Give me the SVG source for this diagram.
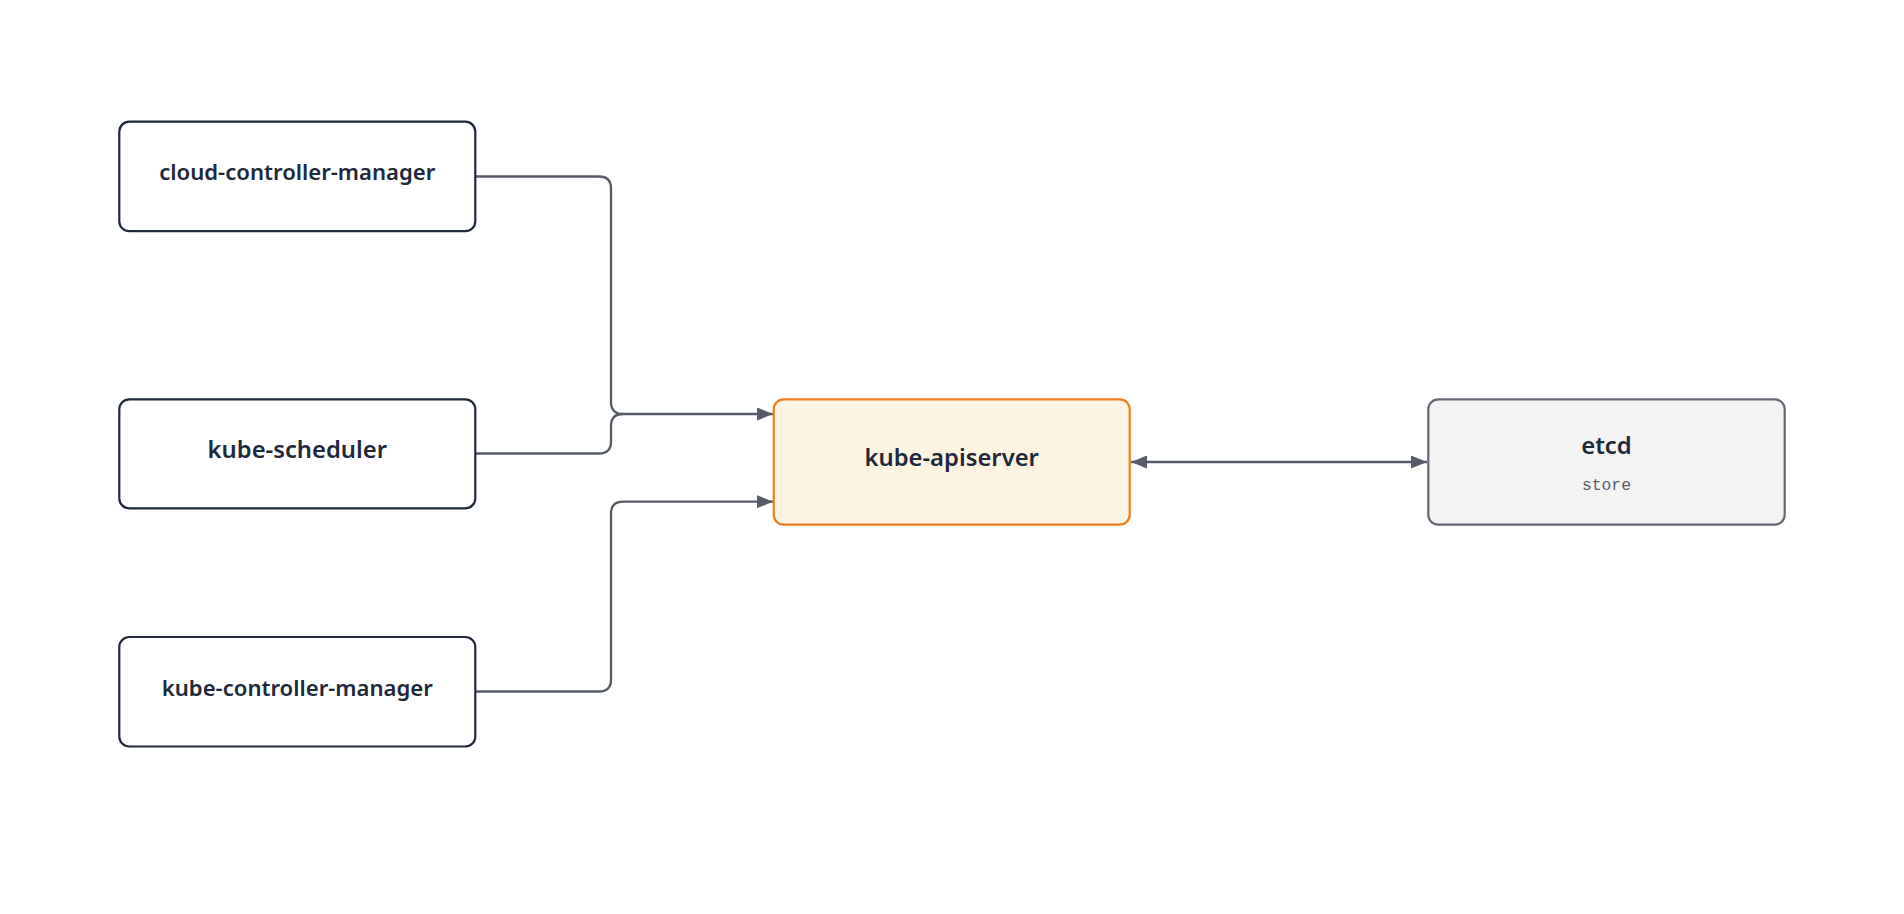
<svg xmlns="http://www.w3.org/2000/svg" width="1904" height="914" viewBox="0 0 1904 914">
<style>
.node rect{stroke-width:2.2}
.plain rect{fill:#ffffff;stroke:#1e293b}
.api rect{fill:#fef4e4;stroke:#f07c1c}
.store rect{fill:#f3f3f4;stroke:#636975}
.label{font-family:"Noto Sans","Open Sans","DejaVu Sans",sans-serif;font-weight:600;fill:#1e293b;text-anchor:middle}
.big{font-size:23.8px}
.small{font-size:22.1px}
.sub{font-family:"Liberation Mono","DejaVu Sans Mono",monospace;font-size:16.3px;fill:#575d68;text-anchor:middle}
.edge{fill:none;stroke:#555c67;stroke-width:2.3}
</style>
<defs>
<marker id="arrow" viewBox="0 0 16 13" refX="16" refY="6.5" markerWidth="16" markerHeight="13" markerUnits="userSpaceOnUse" orient="auto-start-reverse">
<path d="M0,0 L16,6.5 L0,13 Z" fill="#555c67"/>
</marker>
</defs>
<rect width="1904" height="914" fill="#ffffff"/>
<g id="connectors">
<path id="e-ccm" class="edge" d="M476,176.5 H599 Q611,176.5 611,188.5 V402 Q611,414 623,414 H773" marker-end="url(#arrow)"/>
<path id="e-sched" class="edge" d="M476,453.5 H599 Q611,453.5 611,441.5 V426 Q611,414 623,414"/>
<path id="e-kcm" class="edge" d="M476,691.5 H599 Q611,691.5 611,679.5 V513.7 Q611,501.7 623,501.7 H773" marker-end="url(#arrow)"/>
<path id="e-etcd" class="edge" d="M1131,462 H1427" marker-start="url(#arrow)" marker-end="url(#arrow)"/>
</g>
<g id="cloud-controller-manager" class="node plain">
<rect x="119.3" y="121.7" width="356" height="109.5" rx="10"/>
<text class="label small" x="297.3" y="180">cloud-controller-manager</text>
</g>
<g id="kube-scheduler" class="node plain">
<rect x="119.3" y="399.3" width="356" height="109" rx="10"/>
<text class="label big" x="297.3" y="458.3">kube-scheduler</text>
</g>
<g id="kube-controller-manager" class="node plain">
<rect x="119.3" y="637" width="356" height="109.5" rx="10"/>
<text class="label small" x="297.3" y="696">kube-controller-manager</text>
</g>
<g id="kube-apiserver" class="node api">
<rect x="773.7" y="399.3" width="356" height="125.4" rx="10"/>
<text class="label big" x="951.7" y="466">kube-apiserver</text>
</g>
<g id="etcd" class="node store">
<rect x="1428.3" y="399.3" width="356.4" height="125.4" rx="10"/>
<text class="label big" x="1606.5" y="454">etcd</text>
<text class="sub" x="1606.5" y="490">store</text>
</g>
</svg>
